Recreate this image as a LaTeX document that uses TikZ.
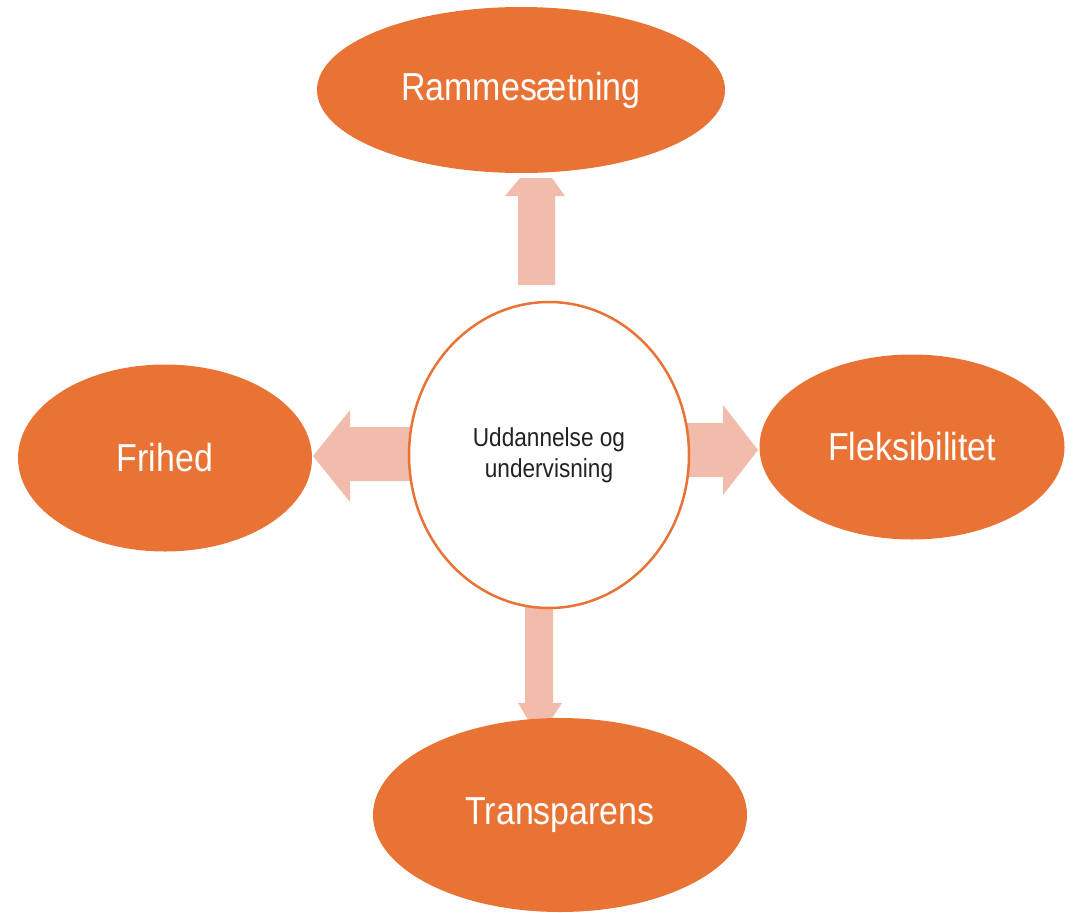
\documentclass[tikz,border=0pt]{standalone}
\usepackage{fontspec}
\usetikzlibrary{shapes.geometric}
\newfontfamily\outerfont{Liberation Sans}[FakeStretch=0.87]
\newfontfamily\innerfont{Liberation Sans}[FakeStretch=0.87]
\definecolor{accent}{RGB}{232,115,52}
\definecolor{arrowpink}{RGB}{242,188,173}
\definecolor{darktext}{RGB}{34,34,34}
\tikzset{
  outer/.style={ellipse, fill=accent, draw=none, inner sep=0pt, text=white,
    font=\outerfont\fontsize{39}{44}\selectfont},
  centre/.style={ellipse, fill=white, draw=accent, line width=2.5pt, inner sep=0pt,
    text=darktext, align=center, font=\innerfont\fontsize{26}{31}\selectfont},
  blockarrow/.style={fill=arrowpink, draw=none}
}
\begin{document}
\begin{tikzpicture}[x=1pt,y=-1pt]
\useasboundingbox (0,0) rectangle (1074,913);
% block arrows (drawn first, nodes cover their ends)
\fill[blockarrow] (518,285) -- (518,196) -- (505,196) -- (520,178) -- (552,178) -- (565,196) -- (555,196) -- (555,285) -- cycle;
\fill[blockarrow] (430,427) -- (350,427) -- (350,410) -- (313,456) -- (350,502) -- (350,481) -- (430,481) -- cycle;
\fill[blockarrow] (670,423) -- (723,423) -- (723,405) -- (758,450) -- (723,495) -- (723,477) -- (670,477) -- cycle;
\fill[blockarrow] (525,595) -- (525,703) -- (518,703) -- (539,738) -- (562,703) -- (553,703) -- (553,595) -- cycle;
% nodes
\node[centre, minimum width=280pt, minimum height=306pt] (c) at (549,455) {Uddannelse og\\undervisning};
\node[outer, minimum width=408pt, minimum height=166pt] (top) at (521,90) {Rammesætning};
\node[outer, minimum width=294pt, minimum height=187pt] (left) at (165,458) {Frihed};
\node[outer, minimum width=305pt, minimum height=185pt] (right) at (912,447) {Fleksibilitet};
\node[outer, minimum width=374pt, minimum height=194pt] (bottom) at (560,815) {Transparens};
\end{tikzpicture}
\end{document}
